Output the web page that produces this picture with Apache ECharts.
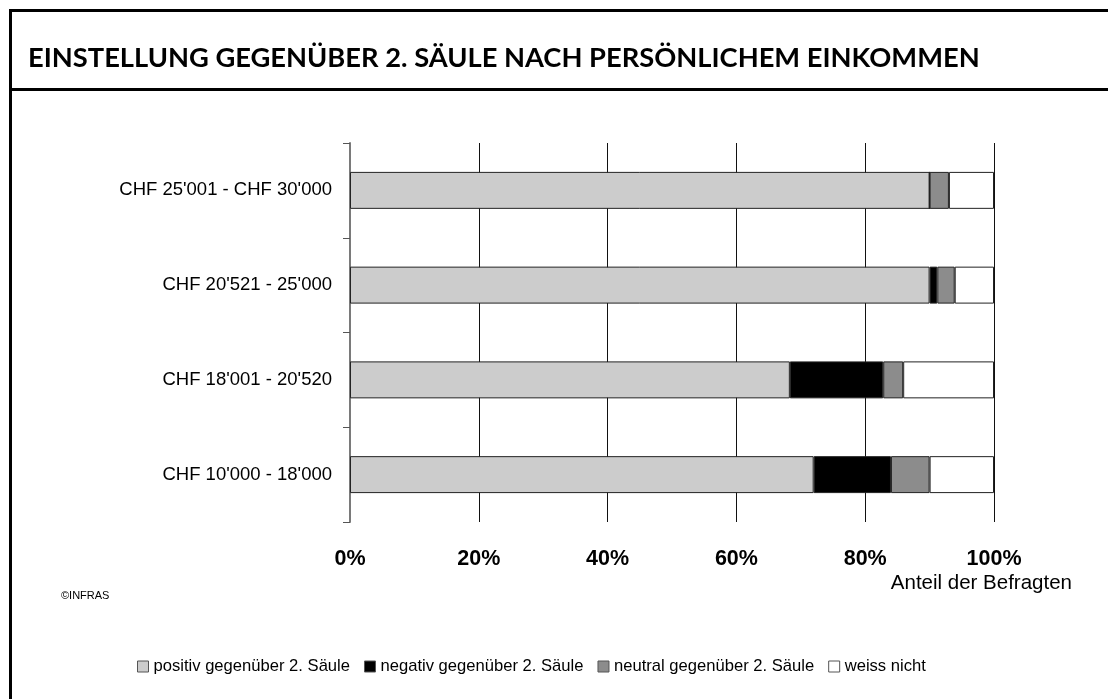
<!DOCTYPE html>
<html>
<head>
<meta charset="utf-8">
<script src="https://cdn.jsdelivr.net/npm/echarts@6/dist/echarts.min.js"></script>
<style>
  html, body { margin: 0; padding: 0; background: #fff; }
  #chart { width: 1108px; height: 699px; }
</style>
</head>
<body>
<div id="chart"></div>
<script>
// categories bottom -> top
var categories = ["CHF 10'000 - 18'000", "CHF 18'001 - 20'520", "CHF 20'521 - 25'000", "CHF 25'001 - CHF 30'000"];
var positiv = [72, 68.3, 90, 90];
var negativ = [12, 14.5, 1.2, 0];
var neutral = [6, 3.1, 2.7, 3];
var weissNicht = [10, 14.1, 6.1, 7];
var seriesNames = ['positiv gegenüber 2. Säule', 'negativ gegenüber 2. Säule', 'neutral gegenüber 2. Säule', 'weiss nicht'];
var colors = ['#cccccc', '#000000', '#8c8c8c', '#ffffff'];
var xTicks = [0, 20, 40, 60, 80, 100];

var chart = echarts.init(document.getElementById('chart'));
var font = 'Liberation Sans, Arial, sans-serif';

function bar(name, data, color) {
    return {
        name: name,
        type: 'bar',
        stack: 'total',
        barWidth: '39%',
        data: data,
        itemStyle: { color: color, borderColor: '#222', borderWidth: 1 },
        emphasis: { disabled: true }
    };
}

chart.setOption({
    backgroundColor: '#fff',
    animation: false,
    grid: { left: 350, right: 114, top: 143, bottom: 177 },
    xAxis: {
        type: 'value',
        min: xTicks[0],
        max: xTicks[xTicks.length - 1],
        interval: 20,
        axisLine: { show: false },
        axisTick: { show: false },
        splitLine: { show: true, lineStyle: { color: '#111', width: 1 } },
        axisLabel: {
            formatter: '{value}%',
            margin: 26,
            color: '#000',
            fontWeight: 'bold',
            fontSize: 21.5,
            fontFamily: font
        }
    },
    yAxis: {
        type: 'category',
        data: categories,
        axisLine: { show: true, lineStyle: { color: '#7a7a7a', width: 2 } },
        axisTick: { show: true, length: 7, lineStyle: { color: '#555', width: 1 } },
        axisLabel: { margin: 18, color: '#000', fontSize: 18.5, fontFamily: font }
    },
    legend: {
        left: 132,
        top: 653,
        icon: 'rect',
        itemWidth: 11,
        itemHeight: 11,
        itemGap: 14,
        itemStyle: { borderColor: '#555', borderWidth: 1 },
        textStyle: { color: '#000', fontSize: 16.6, fontFamily: font },
        data: seriesNames
    },
    graphic: [
        { type: 'line', shape: { x1: 10, y1: 10.5, x2: 1108, y2: 10.5 }, style: { stroke: '#000', lineWidth: 3 } },
        { type: 'line', shape: { x1: 10.5, y1: 9, x2: 10.5, y2: 699 }, style: { stroke: '#000', lineWidth: 3 } },
        { type: 'line', shape: { x1: 10, y1: 89.5, x2: 1108, y2: 89.5 }, style: { stroke: '#000', lineWidth: 3 } },
        {
            type: 'text', left: 28, top: 45,
            style: {
                text: 'EINSTELLUNG GEGENÜBER 2. SÄULE NACH PERSÖNLICHEM EINKOMMEN',
                fill: '#000', font: 'bold 27.3px Lato, "DejaVu Sans", sans-serif'
            }
        },
        {
            type: 'text', right: 36, top: 573,
            style: { text: 'Anteil der Befragten', fill: '#000', font: '20.5px ' + font }
        },
        {
            type: 'text', left: 61, top: 590,
            style: { text: '©INFRAS', fill: '#000', font: '11px ' + font }
        }
    ],
    series: [
        bar(seriesNames[0], positiv, colors[0]),
        bar(seriesNames[1], negativ, colors[1]),
        bar(seriesNames[2], neutral, colors[2]),
        bar(seriesNames[3], weissNicht, colors[3])
    ]
});
</script>
</body>
</html>
